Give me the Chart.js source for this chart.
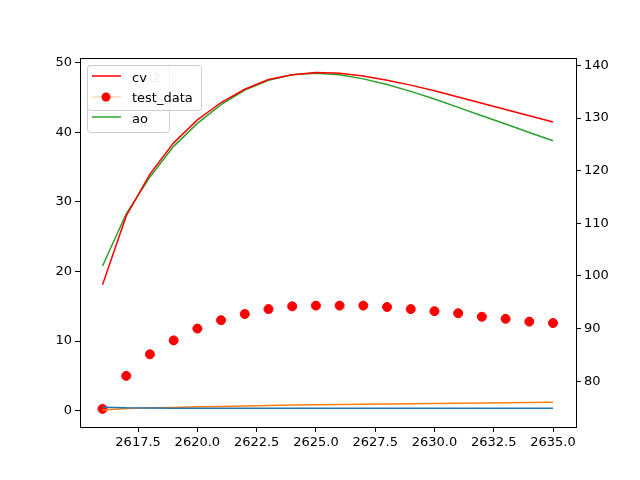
<!DOCTYPE html>
<html><head><script src="https://cdn.jsdelivr.net/npm/chart.js@4"></script>
<style>body{margin:0;background:#fff}</style></head><body>
<canvas id="c" width="640" height="480"></canvas>
<script>
const xs=[2616,2617,2618,2619,2620,2621,2622,2623,2624,2625,2626,2627,2628,2629,2630,2631,2632,2633,2634,2635];
const cv=[18.1,28,34,38.5,41.8,44.3,46.2,47.6,48.3,48.6,48.5,48.1,47.5,46.8,46,45.1,44.2,43.3,42.4,41.5];
const ao=[20.8,28.3,33.6,38,41.3,44,46.1,47.5,48.3,48.5,48.3,47.7,46.9,45.9,44.8,43.6,42.4,41.2,40,38.8];
const testData=[0.25,5.0,8.1,10.1,11.8,13.0,13.9,14.6,15.0,15.1,15.1,15.1,14.9,14.6,14.3,14.0,13.5,13.2,12.8,12.6];
const u1=[0.5,0.4,0.38,0.36,0.35,0.35,0.35,0.35,0.35,0.35,0.35,0.35,0.35,0.35,0.35,0.35,0.35,0.35,0.35,0.35];
const u2=[0.1,0.3,0.4,0.45,0.55,0.6,0.67,0.73,0.8,0.85,0.9,0.93,0.97,1.0,1.03,1.07,1.1,1.14,1.17,1.2];
const xTicks=[2617.5,2620,2622.5,2625,2627.5,2630,2632.5,2635];
const yTicks=[0,10,20,30,40,50];
const y2Ticks=[80,90,100,110,120,130,140];
const pts=a=>a.map((v,i)=>({x:xs[i],y:v}));
const font={family:'DejaVu Sans',size:13};
const tk=t=>function(s){s.ticks=t.map(v=>({value:v}));};
const legendPlugin={id:'lg',afterDraw(ch){const c=ch.ctx;c.save();
 c.font='13px DejaVu Sans';
 c.fillStyle='rgba(255,255,255,0.8)';c.strokeStyle='#ccc';c.lineWidth=1;
 c.beginPath();c.roundRect(87.5,65.5,82,67,3);c.fill();c.stroke();
 c.fillStyle='#000';c.fillText('ao',132,123);
 c.strokeStyle='#2ca02c';c.lineWidth=1.5;c.beginPath();c.moveTo(92,117);c.lineTo(121,117);c.stroke();
 c.fillStyle='#bbb';c.fillText('u2',144,82);
 c.fillStyle='rgba(255,255,255,0.75)';c.strokeStyle='#ccc';c.lineWidth=1;
 c.beginPath();c.roundRect(87.5,65.5,114,45,3);c.fill();c.stroke();
 c.fillStyle='#000';c.fillText('cv',132,82);c.fillText('test_data',132,102);
 c.strokeStyle='red';c.lineWidth=1.5;c.beginPath();c.moveTo(92,76);c.lineTo(121,76);c.stroke();
 c.strokeStyle='rgba(255,127,14,0.3)';c.beginPath();c.moveTo(92,97);c.lineTo(121,97);c.stroke();
 c.fillStyle='red';c.beginPath();c.arc(106,97,4.5,0,7);c.fill();
 const a=ch.chartArea;c.strokeStyle='#000';c.lineWidth=1;c.beginPath();c.moveTo(a.left,a.top+0.5);c.lineTo(a.right,a.top+0.5);c.stroke();
 c.restore();}};
new Chart(document.getElementById('c'),{type:'scatter',
 data:{datasets:[
  {label:'u1',data:pts(u1),showLine:true,borderColor:'#1f77b4',borderWidth:1.5,pointRadius:0,yAxisID:'y'},
  {label:'u2',data:pts(u2),showLine:true,borderColor:'#ff7f0e',borderWidth:1.5,pointRadius:0,yAxisID:'y'},
  {label:'cv',data:pts(cv),showLine:true,borderColor:'red',borderWidth:1.5,pointRadius:0,yAxisID:'y'},
  {label:'ao',data:pts(ao),showLine:true,borderColor:'#2ca02c',borderWidth:1.5,pointRadius:0,yAxisID:'y'},
  {label:'test_data',data:pts(testData),showLine:false,backgroundColor:'red',borderColor:'red',pointRadius:4.5,yAxisID:'y'}
 ]},
 options:{responsive:false,animation:false,layout:{padding:{top:58}},
  plugins:{legend:{display:false},tooltip:{enabled:false}},
  scales:{
   x:{type:'linear',min:2615.05,max:2635.97,afterBuildTicks:tk(xTicks),afterFit(s){s.height=53;},
      grid:{drawOnChartArea:false,tickLength:5,color:'#000'},border:{color:'#000'},
      ticks:{font,color:'#000',callback:v=>v.toFixed(1),maxRotation:0,autoSkip:false}},
   y:{min:-2.35,max:50.7,afterBuildTicks:tk(yTicks),afterFit(s){s.width=80;},
      grid:{drawOnChartArea:false,tickLength:5,color:'#000'},border:{color:'#000'},
      ticks:{font,color:'#000',autoSkip:false}},
   y2:{position:'right',min:71.3,max:141.4,afterBuildTicks:tk(y2Ticks),afterFit(s){s.width=64;},
      grid:{drawOnChartArea:false,tickLength:5,color:'#000'},border:{color:'#000'},
      ticks:{font,color:'#000',autoSkip:false}}
  }},
 plugins:[legendPlugin]});
</script></body></html>
